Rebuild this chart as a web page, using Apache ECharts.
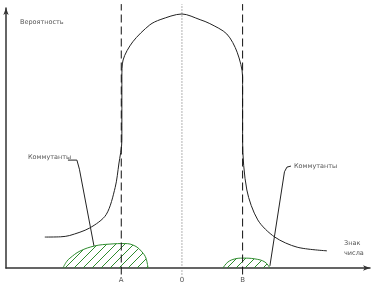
<!DOCTYPE html>
<html><head><meta charset="utf-8">
<script src="https://cdn.jsdelivr.net/npm/echarts@6/dist/echarts.min.js"></script>
<style>html,body{margin:0;padding:0;background:#fff}#c{width:383px;height:289px}</style>
</head><body><div id="c"></div>
<script>
// Probability curve (x in units: A=-1, 0, B=1; y 0..1)
const curveX = [-2.26,-2.0,-1.85,-1.52,-1.25,-1.1,-1.04,-0.99,-0.99,-0.97,-0.81,-0.53,-0.36,0,0.3,0.46,0.74,0.91,1.0,1.0,1.07,1.25,1.53,1.90,2.39];
const curveY = [0.119,0.12,0.125,0.154,0.205,0.31,0.40,0.49,0.735,0.80,0.87,0.935,0.955,0.977,0.955,0.94,0.90,0.83,0.735,0.49,0.30,0.185,0.119,0.08,0.066];
// Left commutant region
const leftHumpX = [-1.962,-1.90,-1.846,-1.681,-1.434,-1.187,-0.94,-0.775,-0.659,-0.593,-0.56];
const leftHumpY = [0,0.025,0.038,0.065,0.085,0.092,0.094,0.085,0.062,0.038,0];
// Right commutant region
const rightHumpX = [0.676,0.758,0.874,1.005,1.203,1.368,1.45];
const rightHumpY = [0,0.023,0.035,0.038,0.035,0.023,0];
// Leader lines
const leftLeaderX = [-1.879,-1.731,-1.69,-1.45];
const leftLeaderY = [0.415,0.415,0.38,0.085];
const rightLeaderX = [1.797,1.731,1.69,1.45];
const rightLeaderY = [0.392,0.388,0.37,0.008];
// Vertical reference lines and tick labels
const refX = [-1,0,1];
const refSpan = [-0.025,1.015];
const tickLabels = {'-1':'А','0':'0','1':'В'};
const labelLeft = 'Коммутанты';
const labelRight = 'Коммутанты';
const yName = 'Вероятность';
const xName = 'Знак\nчисла';

const zip=(a,b)=>a.map((v,i)=>[v,b[i]]);
const green='#2e8b2e';
const pc=document.createElement('canvas');pc.width=9;pc.height=9;
const g=pc.getContext('2d');g.strokeStyle=green;g.lineWidth=1;
g.beginPath();g.moveTo(0,9);g.lineTo(9,0);g.moveTo(-1,1);g.lineTo(1,-1);g.moveTo(8,10);g.lineTo(10,8);g.stroke();
const hatch={image:pc,repeat:'repeat'};

const refSeries=refX.map(x=>({type:'line',data:refSpan.map(y=>[x,y]),showSymbol:false,clip:false,silent:true,
  lineStyle:x===0?{type:[1,2],color:'#666',width:1}:{type:[8,4],color:'#111',width:1}}));

const chart=echarts.init(document.getElementById('c'),null,{renderer:'canvas'});
const txt={fontFamily:'DejaVu Sans',fontSize:6.5,fill:'#555'};
chart.setOption({
  animation:false,
  grid:{left:6,right:13,top:8,bottom:21},
  xAxis:{type:'value',min:-2.9,max:3.1,splitLine:{show:false},
    axisLine:{onZero:false,lineStyle:{color:'#333',width:1.5},symbol:['none','arrow'],symbolSize:[4,7]},
    axisTick:{show:false},
    axisLabel:{customValues:refX,formatter:v=>tickLabels[String(Math.round(v))],margin:9,fontFamily:'DejaVu Sans',fontSize:7,color:'#555'}},
  yAxis:{type:'value',min:0,max:1,splitLine:{show:false},axisTick:{show:false},axisLabel:{show:false},
    axisLine:{onZero:false,lineStyle:{color:'#333',width:1.5},symbol:['none','arrow'],symbolSize:[4,7]}},
  series:[
    {type:'line',data:zip(curveX,curveY),showSymbol:false,smooth:0.3,lineStyle:{color:'#222',width:1},clip:false},
    {type:'line',data:zip(leftHumpX,leftHumpY),showSymbol:false,smooth:0.4,lineStyle:{color:green,width:1},areaStyle:{color:hatch,opacity:1}},
    {type:'line',data:zip(rightHumpX,rightHumpY),showSymbol:false,smooth:0.4,lineStyle:{color:green,width:1},areaStyle:{color:hatch,opacity:1}},
    {type:'line',data:zip(leftLeaderX,leftLeaderY),showSymbol:false,lineStyle:{color:'#222',width:1}},
    {type:'line',data:zip(rightLeaderX,rightLeaderY),showSymbol:false,lineStyle:{color:'#222',width:1}}
  ].concat(refSeries),
  graphic:[
    {type:'text',left:20,top:19,style:Object.assign({text:yName},txt)},
    {type:'text',left:28,top:154,style:Object.assign({text:labelLeft},txt)},
    {type:'text',left:294,top:163,style:Object.assign({text:labelRight},txt)},
    {type:'text',left:344,top:238,style:Object.assign({text:xName,lineHeight:10,align:'center'},txt)}
  ]
});
</script></body></html>
